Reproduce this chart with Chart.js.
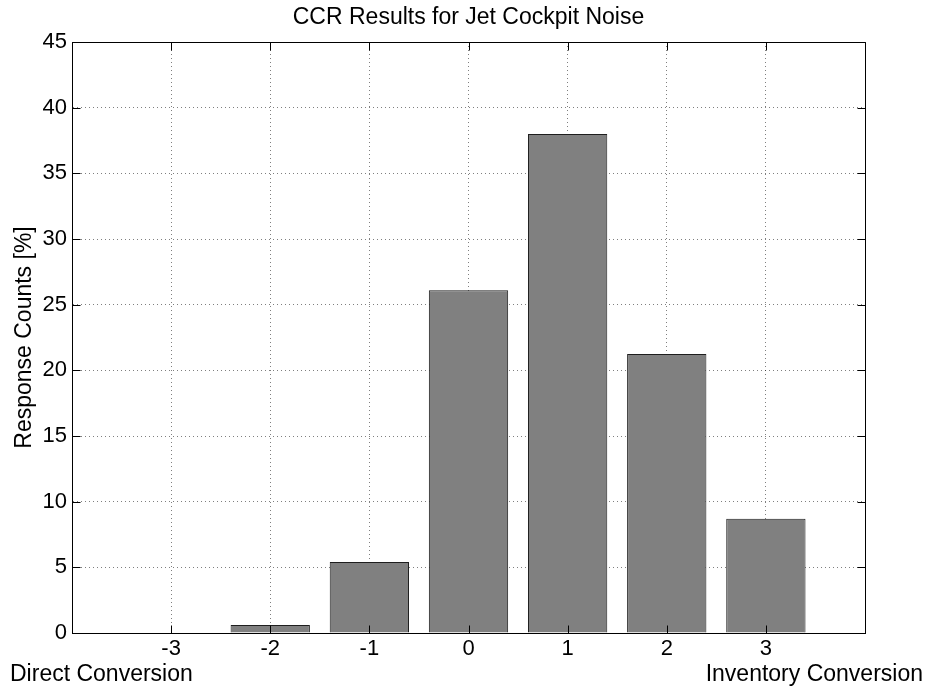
<!DOCTYPE html>
<html>
<head>
<meta charset="utf-8">
<script src="https://cdn.jsdelivr.net/npm/chart.js@4.4.0/dist/chart.umd.min.js"></script>
<style>
html,body{margin:0;padding:0;background:#fff;}
canvas{display:block;}
</style>
</head>
<body>
<canvas id="c" width="927" height="688"></canvas>
<script>
// ---- data ----
const categories = [-3, -2, -1, 0, 1, 2, 3];
const responseCounts = [0, 0.6, 5.4, 26.1, 38.0, 21.25, 8.7];
const yTickValues = [0, 5, 10, 15, 20, 25, 30, 35, 40, 45];
const chartTitle = 'CCR Results for Jet Cockpit Noise';
const yAxisTitle = 'Response Counts [%]';
const leftEndLabel = 'Direct Conversion';
const rightEndLabel = 'Inventory Conversion';

const FONT = '"Liberation Sans", Arial, Helvetica, sans-serif';

const points = categories.map((c, i) => ({ x: c, y: responseCounts[i] }));

const decor = {
  id: 'decor',
  afterDraw(chart) {
    const { ctx, chartArea: { left, right, top, bottom } } = chart;
    const xs = chart.scales.x, ys = chart.scales.y;
    ctx.save();
    ctx.strokeStyle = '#000';
    ctx.lineWidth = 1;
    const L = Math.round(left) + 0.5, R = Math.round(right) + 0.5;
    const T = Math.round(top) + 0.5, B = Math.round(bottom) + 0.5;
    ctx.beginPath();
    ctx.moveTo(L, T); ctx.lineTo(R, T); ctx.lineTo(R, B); ctx.lineTo(L, B); ctx.closePath();
    // inward tick marks
    yTickValues.forEach(v => {
      const py = Math.round(ys.getPixelForValue(v)) + 0.5;
      ctx.moveTo(L, py); ctx.lineTo(L + 8, py);
      ctx.moveTo(R, py); ctx.lineTo(R - 8, py);
    });
    categories.forEach(v => {
      const px = Math.round(xs.getPixelForValue(v)) + 0.5;
      ctx.moveTo(px, B); ctx.lineTo(px, B - 8);
      ctx.moveTo(px, T); ctx.lineTo(px, T + 8);
    });
    ctx.stroke();

    ctx.fillStyle = '#000';
    ctx.font = '23px ' + FONT;
    ctx.textBaseline = 'alphabetic';
    ctx.textAlign = 'center';
    ctx.fillText(chartTitle, (left + right) / 2, 24);
    ctx.textAlign = 'left';
    ctx.fillText(leftEndLabel, 10, 681);
    ctx.textAlign = 'right';
    ctx.fillText(rightEndLabel, 923, 681);

    ctx.translate(25, (top + bottom) / 2);
    ctx.rotate(-Math.PI / 2);
    ctx.textAlign = 'center';
    ctx.textBaseline = 'middle';
    ctx.fillText(yAxisTitle, 0, 0);
    ctx.restore();
  }
};

new Chart(document.getElementById('c'), {
  type: 'bar',
  data: {
    datasets: [{
      data: points,
      backgroundColor: '#808080',
      borderColor: '#1e1e1e',
      borderWidth: 1,
      barPercentage: 0.8,
      categoryPercentage: 1.0
    }]
  },
  options: {
    responsive: false,
    animation: false,
    devicePixelRatio: 1,
    layout: { padding: { top: 42, left: 0, right: 62, bottom: 0 } },
    plugins: { legend: { display: false }, tooltip: { enabled: false }, title: { display: false } },
    scales: {
      x: {
        type: 'linear',
        offset: false,
        min: -4, max: 4,
        afterFit: s => { s.height = 55; },
        afterBuildTicks: s => { s.ticks = [-4].concat(categories, [4]).map(v => ({ value: v })); },
        ticks: {
          autoSkip: false,
          padding: 3,
          color: '#000',
          font: { family: FONT, size: 22 },
          callback: v => (categories.includes(v) ? String(v) : '')
        },
        grid: { offset: false, color: 'rgba(0,0,0,0.5)', lineWidth: 1, drawTicks: false },
        border: { display: true, color: '#000', width: 1, dash: [1, 3] }
      },
      y: {
        min: 0, max: 45,
        afterFit: s => { s.width = 72; },
        afterBuildTicks: s => { s.ticks = yTickValues.map(v => ({ value: v })); },
        ticks: {
          padding: 5,
          color: '#000',
          font: { family: FONT, size: 22 }
        },
        grid: { color: 'rgba(0,0,0,0.5)', lineWidth: 1, drawTicks: false },
        border: { display: true, color: '#000', width: 1, dash: [1, 3] }
      }
    }
  },
  plugins: [decor]
});
</script>
</body>
</html>
